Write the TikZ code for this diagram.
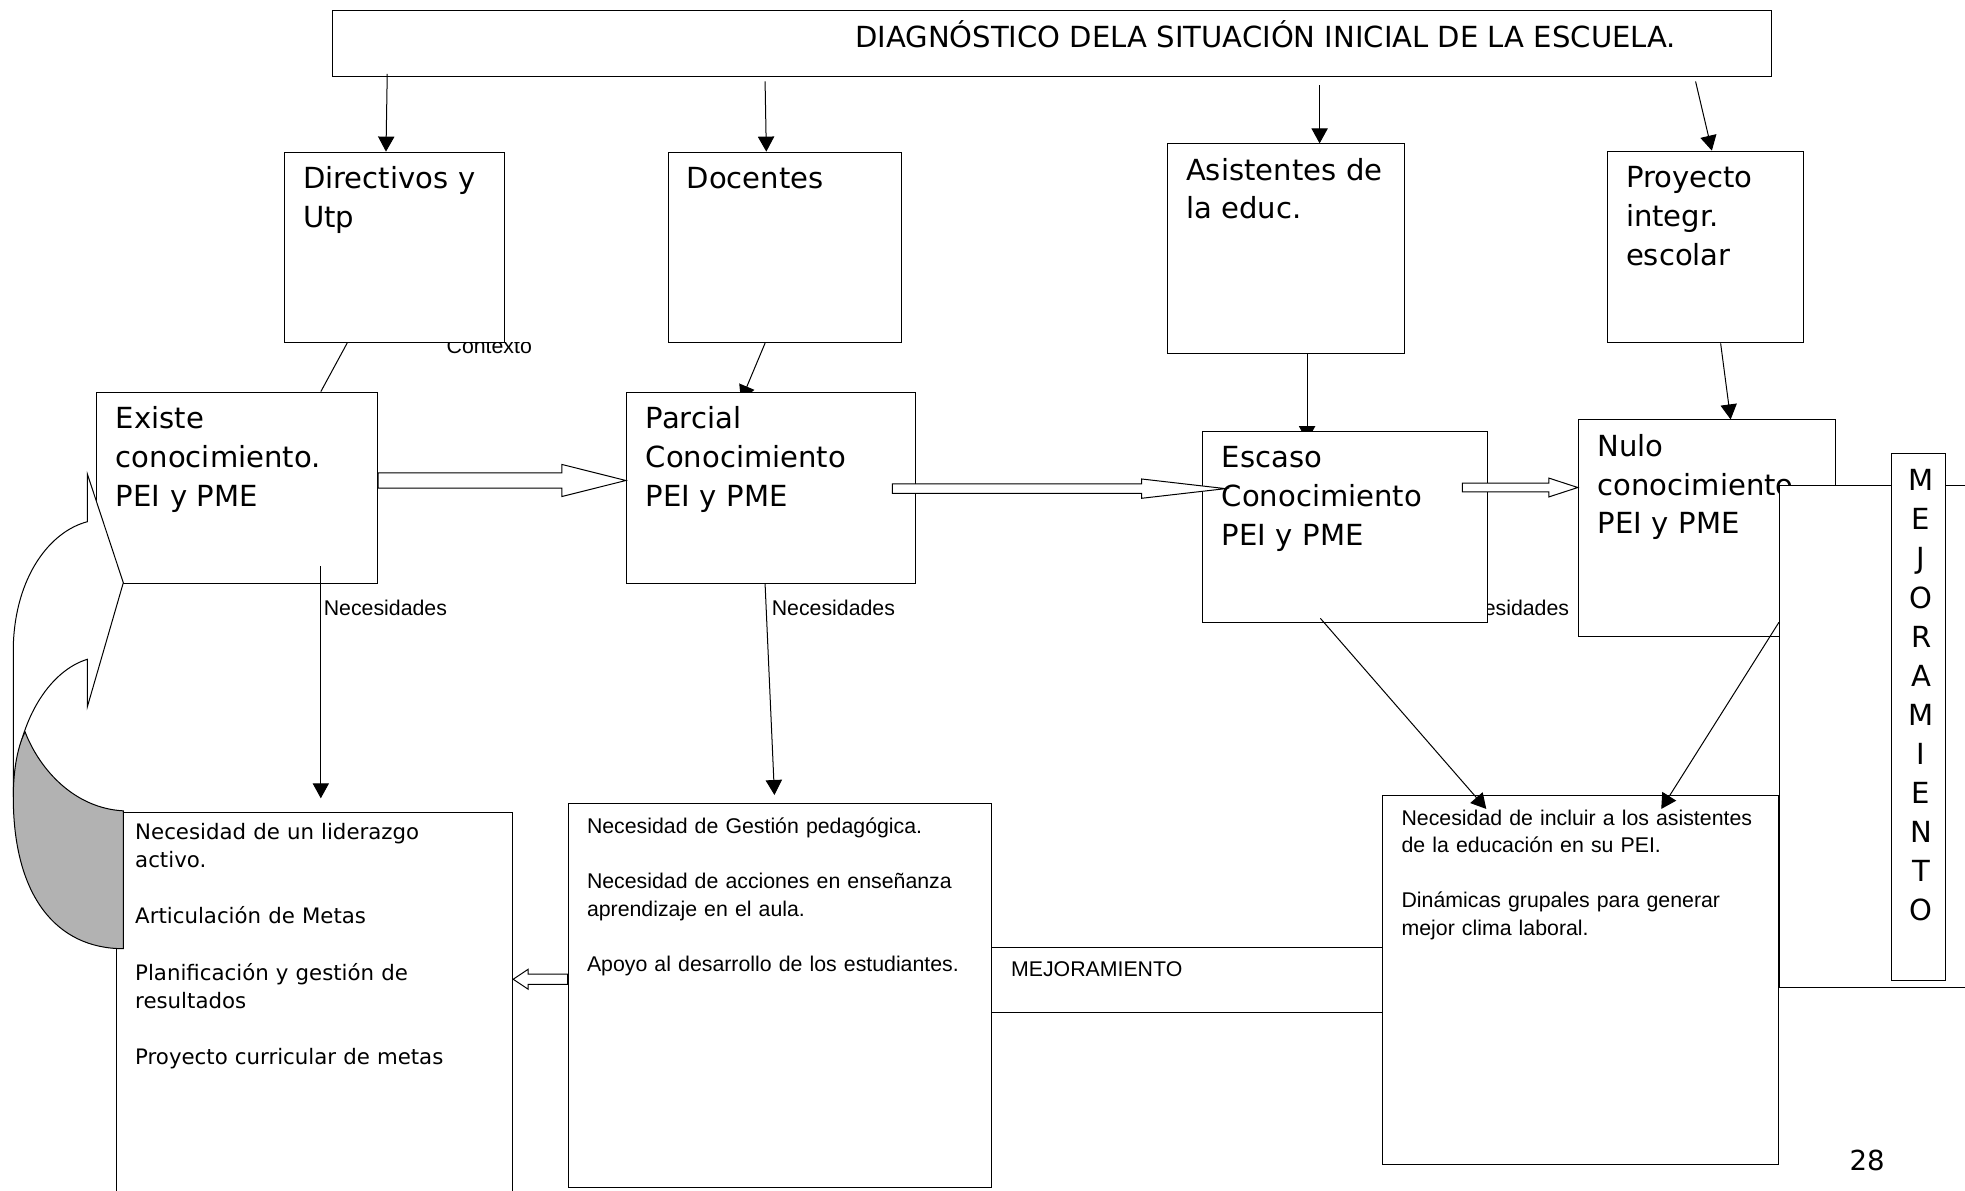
\documentclass[tikz,border=0pt]{standalone}
\usepackage{fontspec}
\setmainfont{DejaVu Sans}
\newfontfamily\arialfam{Liberation Sans}
\usetikzlibrary{arrows.meta,calc}

% flecha gruesa hueca: inicio, punta, cabeza, medio ancho, medio ancho cabeza
\newcommand{\flechagruesa}[5]{%
  \draw[hueca] ($(#1)+(0,#4)$) -- ($(#2)+(#3,#4)$) -- ($(#2)+(#3,#5)$) -- (#2)
    -- ($(#2)+(#3,-#5)$) -- ($(#2)+(#3,-#4)$) -- ($(#1)+(0,-#4)$) -- cycle;}

\begin{document}
\begin{tikzpicture}[x=0.5pt,y=-0.5pt,>={Triangle[length=6pt,width=6.5pt]},
                    line width=0.4pt]
  \tikzstyle{caja}=[draw,fill=white,anchor=north west,inner sep=0pt]
  \tikzstyle{texto}=[anchor=base west,inner sep=0pt,font=\fontsize{11.6}{15.5}\selectfont]
  \tikzstyle{grande}=[anchor=base west,inner sep=0pt,text width=110pt,align=left,
                      font=\fontsize{11.6}{15.5}\selectfont]
  \tikzstyle{chico}=[anchor=base west,inner sep=0pt,text width=170pt,align=left,
                     font=\arialfam\fontsize{8.5}{11}\selectfont]
  \tikzstyle{chicodv}=[chico,font=\fontsize{8.5}{11.2}\selectfont]
  \tikzstyle{etiq}=[anchor=base west,inner sep=0pt,font=\arialfam\fontsize{8.5}{10}\selectfont]
  \tikzstyle{hueca}=[draw,fill=white]

  \useasboundingbox (0,0) rectangle (1568,950);

  % etiquetas tapadas
  \begin{scope}
    \clip (340,273.4) rectangle (440,300);
    \node[etiq] (ctx) at (356,282) {Contexto};
  \end{scope}
  \node[etiq] (nec-c) at (1153.4,491.5) {Necesidades};

  % titulo y actores
  \node[caja,minimum width=574pt,minimum height=26.5pt] (diag) at (265,8) {};
  \node[texto] (diag-t) at (682,38) {DIAGNÓSTICO DELA SITUACIÓN INICIAL DE LA ESCUELA.};

  \node[caja,minimum width=87.5pt,minimum height=76pt] (dir) at (227,121) {};
  \node[grande] (dir-t) at ([shift={(7.25pt,-14.65pt)}]dir.north west) {Directivos y\\Utp};
  \node[caja,minimum width=93pt,minimum height=76pt] (doc) at (533,121) {};
  \node[grande] (doc-t) at ([shift={(7.25pt,-14.65pt)}]doc.north west) {Docentes};
  \node[caja,minimum width=94.5pt,minimum height=83.8pt] (asi) at (931.5,114.4) {};
  \node[grande] (asi-t) at ([shift={(7.25pt,-14.65pt)}]asi.north west) {Asistentes de\\la educ.};
  \node[caja,minimum width=77.9pt,minimum height=76.5pt] (pro) at (1282.6,120.2) {};
  \node[grande] (pro-t) at ([shift={(7.25pt,-14.65pt)}]pro.north west) {Proyecto\\integr.\\escolar};

  \coordinate (t1) at (309,59);
  \coordinate (t2) at (610.5,65);
  \coordinate (t3) at (1053,68);
  \coordinate (t4) at (1353,65);
  \draw[->] (t1) -- (dir.north -| 308,0);
  \draw[->] (t2) -- (doc.north -| 611.5,0);
  \draw[->] (t3) -- (asi.north -| 1053,0);
  \draw[->] (t4) -- (pro.north -| 1366,0);

  % conectores que quedan bajo las cajas
  \coordinate (p1) at (591.3,319.6);
  \coordinate (e1) at (1043,352);
  \draw[->] (doc.south -| 610.5,0) -- (p1);
  \draw[->] (asi.south -| 1043,0) -- (e1);
  \draw (dir.south -| 277,0) -- (256,312.5) coordinate (x1);
  \draw[->] (pro.south -| 1373,0) -- (1381,334.7) coordinate (n1);

  % nivel de conocimiento
  \node[caja,minimum width=112.2pt,minimum height=76pt] (exi) at (76.6,313) {};
  \node[grande] (exi-t) at ([shift={(7.75pt,-14.65pt)}]exi.north west) {Existe\\conocimiento.\\PEI y PME};
  \node[caja,minimum width=115.3pt,minimum height=76pt] (par) at (499.4,313) {};
  \node[grande] (par-t) at ([shift={(7.75pt,-14.65pt)}]par.north west) {Parcial\\Conocimiento\\PEI y PME};
  \node[caja,minimum width=113.7pt,minimum height=76.2pt] (esc) at (959,343.7) {};
  \node[grande] (esc-t) at ([shift={(7.75pt,-14.65pt)}]esc.north west) {Escaso\\Conocimiento\\PEI y PME};
  \node[caja,minimum width=102.7pt,minimum height=86.4pt] (nul) at (1259,334.7) {};
  \node[grande] (nul-t) at ([shift={(7.75pt,-14.65pt)}]nul.north west) {Nulo\\conocimiento\\PEI y PME};

  \node[etiq] (nec-e) at (258,491.5) {Necesidades};
  \node[etiq] (nec-p) at (615.5,491) {Necesidades};

  % flechas huecas
  \coordinate (ea1) at (exi.east |- 0,383.4);
  \coordinate (ea2) at (par.west |- 0,383.4);
  \coordinate (pe1) at (712,389.9);
  \coordinate (pe2) at (978,389.9);
  \coordinate (en1) at (1167,389);
  \coordinate (en2) at (nul.west |- 0,389);
  \flechagruesa{ea1}{ea2}{-51}{6}{12.8}
  \flechagruesa{pe1}{pe2}{-67}{3.75}{7.7}
  \flechagruesa{en1}{en2}{-23}{3.5}{7.5}

  % mejoramiento
  \node[caja,minimum width=92pt,minimum height=200.4pt] (mej) at (1419.5,386.7) {};
  \node[caja,minimum width=21.8pt,minimum height=210.1pt] (mejv) at (1508.8,361.5) {};
  \node[grande,text width=12pt,align=center,anchor=base,font=\fontsize{11.6}{15.6}\selectfont]
    (mejv-t) at (1533,391.6) {M\\E\\J\\O\\R\\A\\M\\I\\E\\N\\T\\O};

  % necesidades
  \node[caja,minimum width=158.1pt,minimum height=165pt] (nec1) at (92.5,647.7) {};
  \node[chicodv] (nec1-t) at ([shift={(7.5pt,-11.15pt)}]nec1.north west)
    {Necesidad de un liderazgo\\activo.\\[11.2pt]Articulación de Metas\\[11.2pt]Planificación y gestión de\\resultados\\[11.2pt]Proyecto curricular de metas};
  \node[caja,minimum width=168.8pt,minimum height=153pt] (nec2) at (453,641) {};
  \node[chico] (nec2-t) at ([shift={(7.5pt,-12pt)}]nec2.north west)
    {Necesidad de Gestión pedagógica.\\[11pt]Necesidad de acciones en enseñanza\\aprendizaje en el aula.\\[11pt]Apoyo al desarrollo de los estudiantes.};
  \node[caja,minimum width=156.2pt,minimum height=26pt] (mejh) at (790.6,755.4) {};
  \node[etiq] (mejh-t) at (806.4,779.5) {MEJORAMIENTO};
  \node[caja,minimum width=158pt,minimum height=147.3pt] (nec3) at (1103,634.4) {};
  \node[chico] (nec3-t) at ([shift={(7.5pt,-12pt)}]nec3.north west)
    {Necesidad de incluir a los asistentes\\de la educación en su PEI.\\[11pt]Dinámicas grupales para generar\\mejor clima laboral.};

  \coordinate (c1) at (256,452);
  \coordinate (c2) at (256,637);
  \coordinate (c3) at (618,634.4);
  \coordinate (c4) at (1053.6,493.4);
  \coordinate (c5) at (1186,645.5);
  \coordinate (c6) at (mej.west |- 0,496.6);
  \coordinate (c7) at (1325.6,645.5);
  \draw[->] (c1) -- (c2);
  \draw[->] (par.south -| 610.5,0) -- (c3);
  \draw[->] (c4) -- (c5);
  \draw[->] (c6) -- (c7);

  \coordinate (b1) at (nec2.west |- 0,781.4);
  \coordinate (b2) at (nec1.east |- 0,781.4);
  \flechagruesa{b1}{b2}{12}{4.1}{8}

  % flecha curva de la izquierda
  \draw[fill=white] (69.7,378.2) -- (98.4,465) -- (69.7,564) -- (69.7,526.1)
     .. controls (40,535) and (12,575) .. (10.6,636) -- (10.6,516)
     .. controls (12,460) and (40,424) .. (69.7,416.3) -- cycle;
  \draw[fill=black!30] (20,584) .. controls (13,598) and (10.6,618) .. (10.6,636)
     .. controls (10.6,715) and (45,757) .. (98.4,757) -- (98.4,647)
     .. controls (60,645) and (32,615) .. (20,584) -- cycle;

  \node[texto,font=\fontsize{11}{13}\selectfont] (pag) at (1475.5,933.6) {28};
\end{tikzpicture}
\end{document}
